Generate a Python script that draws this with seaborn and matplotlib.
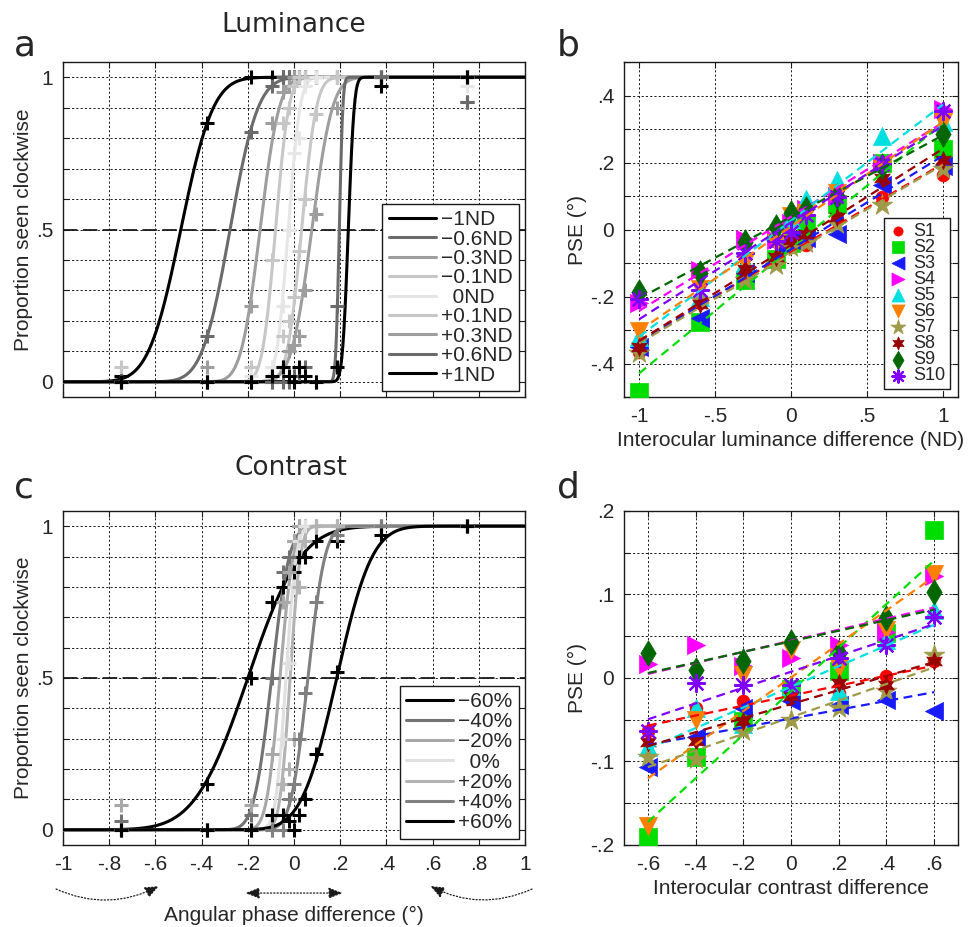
"""Psychometric functions and PSE shifts for luminance and contrast (panels a-d)."""

import math

import matplotlib
matplotlib.use("Agg")
import matplotlib.pyplot as plt
import numpy as np
import seaborn as sns


# ---- psychometric data (panels a and c) ----
LEVELS = [-0.75, -0.375, -0.1875, -0.094, -0.047, -0.023, 0, 0.023, 0.047, 0.094, 0.1875, 0.375, 0.75]

LUM_LABELS = ["\u22121ND", "\u22120.6ND", "\u22120.3ND", "\u22120.1ND", "  0ND",
              "+0.1ND", "+0.3ND", "+0.6ND", "+1ND"]
LUM_GRAYS = [0.0, 0.42, 0.62, 0.78, 0.9, 0.78, 0.62, 0.42, 0.0]
LUM_PSE = [-0.49, -0.277, -0.147, -0.08, -0.025, 0.033, 0.077, 0.196, 0.235]
LUM_SD = [0.11, 0.095, 0.065, 0.045, 0.04, 0.05, 0.07, 0.012, 0.02]
LUM_PROP = [
    [0.02, 0.85, 1, 1, 1, 1, 1, 1, 1, 1, 1, 1, 1],
    [0, 0.15, 0.82, 0.97, 1, 1, 1, 1, 1, 1, 1, 1, 0.92],
    [0, 0.05, 0.25, 0.85, 0.95, 0.97, 1, 1, 1, 1, 1, 1, 1],
    [0.05, 0, 0.05, 0.40, 0.85, 0.9, 0.97, 1, 1, 1, 1, 1, 1],
    [0, 0, 0.02, 0.05, 0.25, 0.5, 0.75, 0.8, 0.97, 1, 1, 1, 0.97],
    [0, 0, 0, 0.02, 0.15, 0.2, 0.28, 0.43, 0.6, 0.88, 1, 1, 1],
    [0, 0, 0, 0, 0.05, 0.1, 0.12, 0.15, 0.30, 0.55, 0.9, 1, 1],
    [0, 0, 0, 0, 0, 0, 0.02, 0.02, 0.05, 0, 0.25, 1, 0.92],
    [0, 0, 0, 0.02, 0.05, 0.02, 0, 0.05, 0.02, 0, 0.05, 0.97, 1],
]

CON_LABELS = ["\u221260%", "\u221240%", "\u221220%", "  0%", "+20%", "+40%", "+60%"]
CON_GRAYS = [0.0, 0.45, 0.66, 0.88, 0.7, 0.5, 0.0]
CON_PSE = [-0.2, -0.097, -0.061, -0.035, -0.017, 0.06, 0.185]
CON_SD = [0.18, 0.06, 0.045, 0.035, 0.035, 0.058, 0.12]
CON_PROP = [
    [0, 0.15, 0.5, 0.75, 0.8, 0.85, 0.85, 0.9, 0.9, 0.95, 0.95, 1, 1],
    [0.03, 0, 0.05, 0.5, 0.85, 0.9, 0.95, 1, 1, 1, 1, 1, 1],
    [0.08, 0, 0.08, 0.25, 0.75, 0.85, 0.95, 1, 1, 1, 1, 1, 1],
    [0, 0, 0, 0.05, 0.3, 0.55, 0.8, 0.95, 1, 1, 1, 1, 1],
    [0, 0, 0, 0, 0.15, 0.2, 0.3, 0.8, 0.95, 1, 1, 1, 1],
    [0, 0, 0, 0, 0, 0.1, 0.15, 0.3, 0.45, 0.75, 0.97, 1, 1],
    [0, 0, 0, 0.05, 0.05, 0.03, 0, 0.05, 0.1, 0.25, 0.52, 0.97, 1],
]

# ---- PSE per subject (panels b and d) ----
SUBJECTS = ["S1", "S2", "S3", "S4", "S5", "S6", "S7", "S8", "S9", "S10"]
SUBJ_COLORS = ["#ff0000", "#00dd00", "#1a1aff", "#ff00ff", "#00e0e0",
               "#ff8000", "#9e9a48", "#990000", "#006600", "#8000ff"]
SUBJ_MARKERS = ["o", "s", "<", ">", "^", "v", "*", (6, 1, 0), "d", (8, 2, 0)]
SUBJ_SIZES = [85, 160, 170, 170, 170, 170, 250, 170, 170, 150]

ND_DIFF = [-1, -0.6, -0.3, -0.1, 0, 0.1, 0.3, 0.6, 1]
PSE_LUM = [
    [-0.365, -0.22, -0.13, -0.09, -0.045, -0.045, 0.03, 0.097, 0.162],
    [-0.485, -0.275, -0.152, -0.087, -0.04, 0.017, 0.077, 0.2, 0.241],
    [-0.35, -0.265, -0.13, -0.042, -0.03, -0.025, -0.012, 0.132, 0.19],
    [-0.22, -0.12, -0.027, -0.03, 0.02, 0.06, 0.1, 0.2, 0.361],
    [-0.32, -0.2, -0.1, -0.01, 0.03, 0.092, 0.147, 0.279, 0.32],
    [-0.304, -0.177, -0.097, -0.04, 0.04, 0.05, 0.11, 0.18, 0.32],
    [-0.37, -0.21, -0.152, -0.105, -0.051, -0.04, 0.017, 0.074, 0.18],
    [-0.35, -0.222, -0.117, -0.082, -0.031, -0.012, 0.037, 0.154, 0.209],
    [-0.186, -0.131, -0.037, 0.007, 0.048, 0.062, 0.1, 0.19, 0.286],
    [-0.208, -0.18, -0.069, -0.035, -0.007, 0.044, 0.097, 0.195, 0.353],
]

CONTRAST_DIFF = [-0.6, -0.4, -0.2, 0, 0.2, 0.4, 0.6]
PSE_CON = [
    [-0.063, -0.036, -0.028, -0.025, -0.018, 0.002, 0.02],
    [-0.191, -0.095, -0.051, -0.013, 0.008, 0.054, 0.177],
    [-0.107, -0.071, -0.036, -0.028, -0.032, -0.026, -0.04],
    [0.017, 0.04, 0.014, 0.024, 0.04, 0.055, 0.122],
    [-0.083, -0.036, -0.055, -0.01, -0.016, 0.045, 0.081],
    [-0.177, -0.05, 0.004, 0.033, 0.012, 0.058, 0.124],
    [-0.095, -0.097, -0.063, -0.05, -0.036, -0.016, 0.028],
    [-0.077, -0.075, -0.051, -0.022, -0.006, -0.008, 0.02],
    [0.03, 0.009, 0.02, 0.0435, 0.03, 0.072, 0.103],
    [-0.063, -0.006, -0.008, -0.008, 0.024, 0.04, 0.073],
]


sns.set_theme(style="white")
plt.rcParams["font.family"] = ["Liberation Sans", "DejaVu Sans"]
plt.rcParams["axes.unicode_minus"] = False

FS = 15
GRID_KW = dict(color="k", lw=0.7, ls=(0, (2.2, 2.2)))


def short(v):
    """MATLAB-like tick text: .2 instead of 0.2."""
    if abs(v) < 1e-9:
        return "0"
    s = f"{v:g}"
    return s.replace("0.", ".")


def cum_normal(x, mu, sd):
    return np.array([0.5 * (1 + math.erf((v - mu) / (sd * math.sqrt(2)))) for v in x])


def style_axes(ax, xticks, xlabels, yticks, ylabels):
    ax.set_xticks(xticks)
    ax.set_xticklabels(xlabels)
    ax.set_yticks(yticks)
    ax.set_yticklabels(ylabels)
    ax.grid(True, **GRID_KW)
    ax.set_axisbelow(True)
    ax.tick_params(direction="in", top=True, right=True, bottom=True, left=True,
                   length=4, width=0.8, color="k", labelsize=FS, pad=7)
    for sp in ax.spines.values():
        sp.set_color("k")
        sp.set_linewidth(1.0)


def psychometric_panel(ax, labels, grays, pses, sds, props, spacing):
    xs = np.linspace(-1, 1, 800)
    for lab, g, mu, sd, p in zip(labels, grays, pses, sds, props):
        col = str(g)
        ax.plot(xs, cum_normal(xs, mu, sd), color=col, lw=2.2, label=lab, zorder=3)
        ax.plot(LEVELS, p, ls="none", marker="+", ms=10, mew=2.2, color=col, zorder=4)
    ax.axhline(0.5, color="k", lw=1.3, ls=(0, (8, 3)), zorder=2)
    ax.set_xlim(-1, 1)
    ax.set_ylim(-0.05, 1.05)
    yt = np.round(np.arange(0, 1.01, 0.1), 2)
    ylab = [{0.0: "0", 0.5: ".5", 1.0: "1"}.get(v, "") for v in yt]
    xt = np.round(np.arange(-1, 1.01, 0.2), 2)
    style_axes(ax, xt, [short(v) for v in xt], yt, ylab)
    ax.set_ylabel("Proportion seen clockwise", fontsize=FS, labelpad=2)
    leg = ax.legend(loc="lower right", fontsize=FS, handlelength=2.25, handletextpad=0.25,
                    labelspacing=spacing, borderpad=0.3, borderaxespad=0.3,
                    fancybox=False, framealpha=1, edgecolor="k")
    leg.get_frame().set_linewidth(1.0)
    leg.set_zorder(10)


def pse_panel(ax, xvals, table):
    for subj, col, mk, size, ys in zip(SUBJECTS, SUBJ_COLORS, SUBJ_MARKERS, SUBJ_SIZES, table):
        lw = 1.6 if mk == (8, 2, 0) else 0.5
        sns.regplot(x=np.array(xvals), y=np.array(ys), ax=ax, ci=None, marker=mk,
                    color=col, label=subj, truncate=True,
                    scatter_kws=dict(s=size, alpha=1, linewidths=lw, zorder=3),
                    line_kws=dict(ls=(0, (4, 2.5)), lw=1.6, zorder=4))
    ax.set_ylabel("PSE (\u00b0)", fontsize=FS, labelpad=2)


fig = plt.figure(figsize=(9.77, 9.27), dpi=100)
ax_a = fig.add_axes([0.0645, 0.5717, 0.4729, 0.3614])
ax_b = fig.add_axes([0.6387, 0.5717, 0.3419, 0.3614])
ax_c = fig.add_axes([0.0645, 0.0885, 0.4729, 0.3603])
ax_d = fig.add_axes([0.6387, 0.0885, 0.3419, 0.3603])

# a: luminance psychometric functions
psychometric_panel(ax_a, LUM_LABELS, LUM_GRAYS, LUM_PSE, LUM_SD, LUM_PROP, 0.02)
ax_a.set_xticklabels([])

# c: contrast psychometric functions
psychometric_panel(ax_c, CON_LABELS, CON_GRAYS, CON_PSE, CON_SD, CON_PROP, 0.06)
ax_c.set_xlabel("Angular phase difference (\u00b0)", fontsize=FS, labelpad=23)

arrow = dict(arrowstyle="-|>,head_length=0.7,head_width=0.28", ls=":", lw=0.9,
             color="k", shrinkA=0, shrinkB=0)
coords = ("data", "axes fraction")
ax_c.annotate("", xy=(-0.585, -0.123), xytext=(-1.03, -0.132), xycoords=coords,
              textcoords=coords, annotation_clip=False,
              arrowprops=dict(arrow, connectionstyle="arc3,rad=0.24"))
ax_c.annotate("", xy=(0.59, -0.123), xytext=(1.03, -0.132), xycoords=coords,
              textcoords=coords, annotation_clip=False,
              arrowprops=dict(arrow, connectionstyle="arc3,rad=-0.24"))
ax_c.annotate("", xy=(0.21, -0.144), xytext=(-0.21, -0.144), xycoords=coords,
              textcoords=coords, annotation_clip=False,
              arrowprops=dict(arrow, arrowstyle="<|-|>,head_length=0.7,head_width=0.28"))

# b: PSE vs luminance difference
pse_panel(ax_b, ND_DIFF, PSE_LUM)
ax_b.set_xlim(-1.1, 1.1)
ax_b.set_ylim(-0.5, 0.5)
yt_b = np.round(np.arange(-0.5, 0.51, 0.1), 2)
style_axes(ax_b, [-1, -0.5, 0, 0.5, 1], ["-1", "-.5", "0", ".5", "1"],
           yt_b, [short(v) if round(v * 10) % 2 == 0 and abs(v) < 0.45 else "" for v in yt_b])
ax_b.set_xlabel("Interocular luminance difference (ND)", fontsize=FS, labelpad=4)
leg_b = ax_b.legend(loc="lower right", fontsize=13, handlelength=1.0, handletextpad=0.35,
                    labelspacing=-0.05, borderpad=0.25, borderaxespad=0.45, scatterpoints=1,
                    markerscale=0.72, fancybox=False, framealpha=1, edgecolor="k")
leg_b.get_frame().set_linewidth(1.0)
leg_b.set_zorder(10)

# d: PSE vs contrast difference
pse_panel(ax_d, CONTRAST_DIFF, PSE_CON)
ax_d.set_xlim(-0.7, 0.7)
ax_d.set_ylim(-0.2, 0.2)
xt_d = np.round(np.arange(-0.6, 0.61, 0.2), 2)
yt_d = np.round(np.arange(-0.2, 0.201, 0.05), 3)
style_axes(ax_d, xt_d, [short(v) for v in xt_d],
           yt_d, [short(v) if round(v * 100) % 10 == 0 else "" for v in yt_d])
ax_d.set_xlabel("Interocular contrast difference", fontsize=FS, labelpad=4)

# titles and panel letters
fig.text(294 / 977, 1 - 25 / 927, "Luminance", ha="center", va="center",
         fontsize=19, family="DejaVu Sans")
fig.text(291 / 977, 1 - 468 / 927, "Contrast", ha="center", va="center",
         fontsize=19, family="DejaVu Sans")
for x, y, letter in [(14, 55, "a"), (557, 55, "b"), (14, 498, "c"), (557, 498, "d")]:
    fig.text(x / 977, 1 - y / 927, letter, ha="left", va="baseline",
             fontsize=26, family="DejaVu Sans")

fig.savefig("out.png", dpi=100)
